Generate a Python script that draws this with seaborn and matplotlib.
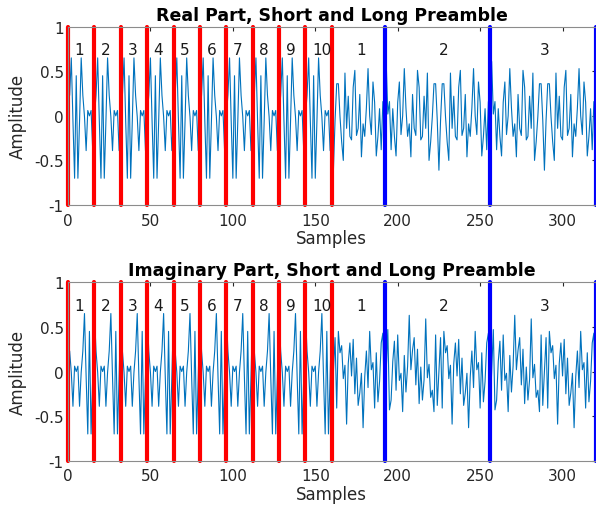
import numpy as np
import pandas as pd
import matplotlib
matplotlib.use("Agg")
import matplotlib.pyplot as plt
import seaborn as sns

# one 16-sample period of the short training field (real / imaginary)
short_re = [0.23, 0.65, -0.06, -0.70, 0.45, -0.70, -0.06, 0.65,
            0.23, -0.01, -0.39, 0.06, 0.00, 0.06, -0.39, -0.01]
short_im = [0.23, -0.01, -0.39, 0.06, 0.00, 0.06, -0.39, -0.01,
            0.23, 0.65, -0.06, -0.70, 0.45, -0.70, -0.06, 0.65]

# one 64-sample long training symbol (real / imaginary)
long_re = [0.61, 0.02, 0.16, -0.38, 0.08, -0.23, -0.45, 0.15,
           0.38, -0.21, 0.00, 0.53, 0.09, -0.23, -0.09, -0.46,
           0.24, -0.14, -0.22, 0.51, 0.32, -0.27, -0.23, 0.22,
           -0.14, 0.48, -0.50, -0.29, -0.01, 0.36, 0.36, -0.05,
           -0.61, -0.05, 0.36, 0.36, -0.01, -0.29, -0.50, 0.48,
           -0.14, 0.22, -0.23, -0.27, 0.32, 0.51, -0.22, -0.14,
           0.24, -0.46, -0.09, -0.23, 0.09, 0.53, 0.00, -0.21,
           0.38, 0.15, -0.45, -0.23, 0.08, -0.38, 0.16, 0.02]
long_im = [0.00, 0.47, -0.43, -0.32, 0.11, 0.34, -0.21, 0.41,
           -0.10, -0.02, -0.45, 0.18, -0.23, 0.06, 0.63, 0.02,
           0.24, 0.38, -0.15, 0.25, -0.36, 0.05, -0.32, -0.09,
           0.59, -0.07, 0.08, -0.29, -0.21, -0.45, 0.41, -0.38,
           0.00, 0.38, -0.41, 0.45, 0.21, 0.29, -0.08, 0.07,
           -0.59, 0.09, 0.32, -0.05, 0.36, -0.25, 0.15, -0.38,
           -0.24, -0.02, -0.63, -0.06, 0.23, -0.18, 0.45, 0.02,
           0.10, -0.41, 0.21, -0.34, -0.11, 0.32, 0.43, -0.47]

n_short = 10
short_edges = list(range(0, 161, 16))
long_edges = [192, 256, 320]
short_labels = [str(i) for i in range(1, 11)]
long_labels = ["1", "2", "3"]


def build(short, long):
    # 10 short periods, then 32-sample guard (tail of long symbol) + 2 long symbols
    return np.concatenate([np.tile(short, n_short), long[32:], long, long])


df = pd.DataFrame({
    "Samples": np.arange(1, 321),
    "Real": build(short_re, long_re),
    "Imag": build(short_im, long_im),
})

sns.set_style("white")
plt.rcParams["font.family"] = ["DejaVu Sans"]
plt.rcParams["axes.unicode_minus"] = False

fig = plt.figure(figsize=(5.96, 5.10), dpi=100)
ax1 = fig.add_axes([0.1141, 0.5961, 0.8851, 0.3496])
ax2 = fig.add_axes([0.1141, 0.0947, 0.8851, 0.3498])

panels = [(ax1, "Real", "Real Part, Short and Long Preamble"),
          (ax2, "Imag", "Imaginary Part, Short and Long Preamble")]

for ax, col, title in panels:
    sns.lineplot(data=df, x="Samples", y=col, ax=ax, color="#0072BD",
                 linewidth=0.8, estimator=None)
    for e in short_edges:
        ax.axvline(e, color="#ff0000", linewidth=3, clip_on=False)
    for e in long_edges:
        ax.axvline(e, color="#0000ff", linewidth=3, clip_on=False)
    for i, lab in enumerate(short_labels):
        ax.text(16 * i + 4, 0.74, lab, fontsize=11, ha="left", va="center",
                color="#1a1a1a")
    for xpos, lab in zip([178, 228, 289], long_labels):
        ax.text(xpos, 0.74, lab, fontsize=11, ha="center", va="center",
                color="#1a1a1a")
    ax.set_xlim(0, 320)
    ax.set_ylim(-1, 1)
    ax.set_xticks(range(0, 301, 50))
    ax.set_yticks([-1, -0.5, 0, 0.5, 1])
    ax.set_yticklabels(["-1", "-0.5", "0", "0.5", "1"])
    ax.tick_params(direction="in", top=True, right=True, length=3,
                   labelsize=11, colors="#262626")
    ax.tick_params(axis="x", pad=5.5)
    ax.tick_params(axis="y", pad=3)
    for s in ax.spines.values():
        s.set_color("#8c8c8c")
        s.set_linewidth(0.8)
    ax.set_xlabel("Samples", fontsize=12, color="#262626", labelpad=1)
    ax.set_ylabel("Amplitude", fontsize=12, color="#262626", labelpad=5)
    ax.set_title(title, fontsize=12.5, fontweight="bold", color="black", pad=5)

fig.savefig("out.png", dpi=100)
